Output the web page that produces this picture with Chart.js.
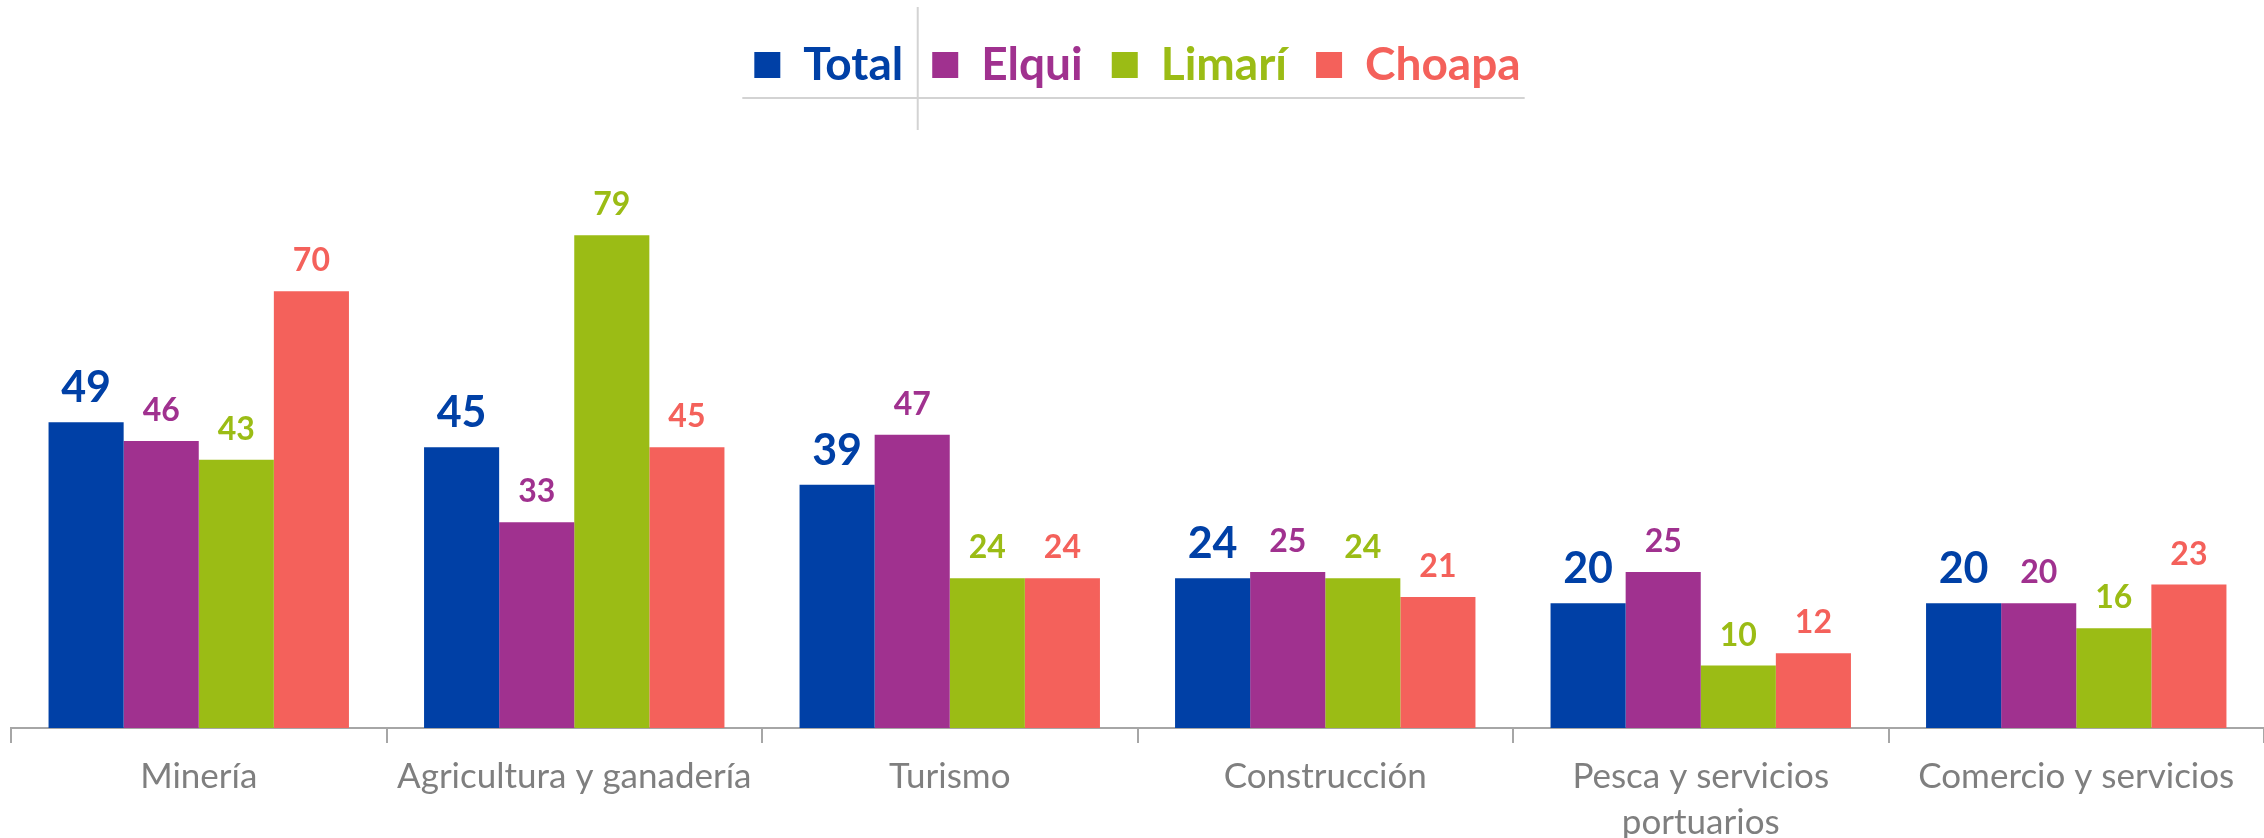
<!DOCTYPE html>
<html>
<head>
<meta charset="utf-8">
<script src="https://cdn.jsdelivr.net/npm/chart.js@4.4.1/dist/chart.umd.min.js"></script>
<style>
html, body { margin: 0; padding: 0; background: #fff; }
</style>
</head>
<body>
<canvas id="chart" width="2264" height="838"></canvas>
<script>
var categories = [
    "Minería",
    "Agricultura y ganadería",
    "Turismo",
    "Construcción",
    ["Pesca y servicios", "portuarios"],
    "Comercio y servicios"
];
var seriesNames = ["Total", "Elqui", "Limarí", "Choapa"];
var seriesColors = ["#0040a6", "#a0318f", "#9bbc15", "#f4615b"];
var totalValues = [49, 45, 39, 24, 20, 20];
var elquiValues = [46, 33, 47, 25, 25, 20];
var limariValues = [43, 79, 24, 24, 10, 16];
var choapaValues = [70, 45, 24, 21, 12, 23];

var FONT = "Lato, 'Open Sans', sans-serif";

// numbers above the bars
var valueLabels = {
    id: "valueLabels",
    afterDatasetsDraw: function (chart) {
        var ctx = chart.ctx;
        chart.data.datasets.forEach(function (ds, i) {
            var meta = chart.getDatasetMeta(i);
            ctx.save();
            ctx.font = (i === 0 ? "bold 43px " : "bold 32px ") + FONT;
            ctx.fillStyle = ds.backgroundColor;
            ctx.textAlign = "center";
            ctx.textBaseline = "alphabetic";
            meta.data.forEach(function (bar, j) {
                ctx.fillText(ds.data[j], bar.x, bar.y - 20);
            });
            ctx.restore();
        });
    }
};

// thin grey rules around the legend
var legendRules = {
    id: "legendRules",
    afterDraw: function (chart) {
        var hb = chart.legend.legendHitBoxes;
        if (!hb || hb.length < 2) return;
        var ctx = chart.ctx;
        var first = hb[0], last = hb[hb.length - 1];
        var midY = first.top + first.height / 2;
        var lineY = midY + 33;
        var vx = (first.left + first.width + hb[1].left) / 2;
        ctx.save();
        ctx.strokeStyle = "#d3d3d3";
        ctx.lineWidth = 2;
        ctx.beginPath();
        ctx.moveTo(first.left - 12, lineY);
        ctx.lineTo(last.left + last.width + 4, lineY);
        ctx.moveTo(vx, 7);
        ctx.lineTo(vx, lineY + 32);
        ctx.stroke();
        ctx.restore();
    }
};

var datasets = [totalValues, elquiValues, limariValues, choapaValues].map(function (vals, i) {
    return {
        label: seriesNames[i],
        data: vals,
        backgroundColor: seriesColors[i],
        categoryPercentage: 0.8,
        barPercentage: 1.0
    };
});

var chart = new Chart(document.getElementById("chart"), {
    type: "bar",
    data: {
        labels: categories,
        datasets: datasets
    },
    options: {
        responsive: false,
        animation: false,
        layout: {
            padding: { left: 11, right: 0, top: 13, bottom: -18 }
        },
        plugins: {
            legend: {
                position: "top",
                labels: {
                    boxWidth: 26,
                    boxHeight: 26,
                    padding: 29,
                    font: { family: FONT, size: 46, weight: "bold" },
                    generateLabels: function (chart) {
                        var items = Chart.defaults.plugins.legend.labels.generateLabels(chart);
                        items.forEach(function (it, i) {
                            it.fontColor = seriesColors[i];
                            it.lineWidth = 0;
                        });
                        return items;
                    }
                }
            },
            tooltip: { enabled: false }
        },
        scales: {
            x: {
                grid: {
                    display: true,
                    drawOnChartArea: false,
                    drawTicks: true,
                    tickLength: 15,
                    color: "#a6a6a6",
                    lineWidth: 2
                },
                border: { display: true, color: "#a6a6a6", width: 2 },
                ticks: {
                    color: "#7f7f7f",
                    padding: 11,
                    maxRotation: 0,
                    autoSkip: false,
                    font: { family: FONT, size: 35, lineHeight: 1.3 }
                }
            },
            y: {
                display: false,
                min: 0,
                max: 101
            }
        }
    },
    plugins: [valueLabels, legendRules]
});
</script>
</body>
</html>
